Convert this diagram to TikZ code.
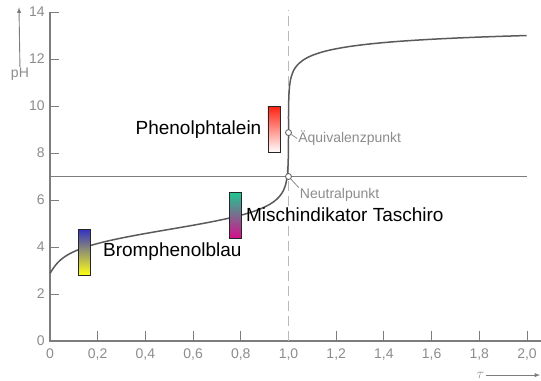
\documentclass[tikz,border=0pt]{standalone}
\usepackage{fontspec}
\setmainfont{Liberation Sans}
\usetikzlibrary{positioning}

\begin{document}
\begin{tikzpicture}[x=238.5pt, y=23.5pt,
	axis/.style={draw=axisgray, line width=1.1pt},
	tickline/.style={draw=axisgray, line width=1pt},
	bar/.style={draw=black!85, line width=0.8pt, minimum width=12pt, minimum height=46pt, inner sep=0pt},
	indname/.style={font=\fontsize{19}{19}\selectfont, inner sep=0pt},
	note/.style={text=notegray, font=\fontsize{14}{14}\selectfont, inner sep=1pt},
	pointmark/.style={circle, draw=curvegray, fill=white, line width=0.8pt, inner sep=0pt, minimum size=6pt}]
	\definecolor{axisgray}{RGB}{125, 125, 125};
\definecolor{notegray}{RGB}{140, 140, 140};
\definecolor{curvegray}{RGB}{90, 90, 90};
\definecolor{dashgray}{RGB}{185, 185, 185};
\definecolor{bromblue}{RGB}{50, 50, 195};
\definecolor{bromyellow}{RGB}{255, 255, 20};
\definecolor{mischgreen}{RGB}{30, 200, 145};
\definecolor{mischpink}{RGB}{215, 15, 140};
\definecolor{phenolred}{RGB}{255, 35, 20};

% \drawbar#name#x#y#topcolor#bottomcolor
\def\drawbar#1#2#3#4#5{
	\node[bar, top color=#4, bottom color=#5] (#1) at (#2, #3) {};
}

	\useasboundingbox (-0.2096, -1.660) rectangle (2.0587, 14.511);

	% axes
	\draw[axis] (0, 14) -- (0, 0) -- (2.0587, 0);
	\foreach \y in {2, 4, ..., 14}{
		\draw[tickline] (0, \y) -- (0.038, \y);
	}
	\foreach \y in {0, 2, ..., 14}{
		\node[note, anchor=east] (yt-\y) at (-0.017, \y) {\y};
	}
	\foreach \x/\a/\b in {0.2/0/2, 0.4/0/4, 0.6/0/6, 0.8/0/8, 1.0/1/0, 1.2/1/2, 1.4/1/4, 1.6/1/6, 1.8/1/8, 2.0/2/0}{
		\draw[tickline] (\x, 0) -- (\x, 0.43);
		\node[note] (xt-\a-\b) at (\x, -0.56) {\a,\b};
	}
	\node[note] (xt-0) at (0, -0.56) {0};

	% axis names
	\node[note] (phname) at (-0.126, 11.35) {pH};
	\coordinate (phtip) at (-0.13, 14.2);
	\draw[draw=axisgray, line width=0.9pt, -latex] (phname.north) -- (phtip);
	\node[note] (tauname) at (1.805, -1.45) {$\tau$};
	\coordinate (tautip) at (2.055, -1.45);
	\draw[draw=axisgray, line width=0.9pt, -latex] (tauname.east) -- (tautip);

	% guide lines
	\draw[draw=dashgray, line width=1pt, dash pattern=on 10pt off 5pt] (1, 0) -- (1, 14.1);
	\draw[draw=axisgray, line width=0.9pt] (0, 7) -- (2.0, 7);

	% titration curve, tau as a function of pH
	\draw[draw=curvegray, line width=1.5pt] plot[domain=2.88:13.0, samples=300, variable=\p]
		({1/(1+pow(10, max(4.75-\p, -4))) - pow(10, max(1-\p, -4))
		  + 2*pow(10, max(\p-13.477, -4))/(1-pow(10, max(\p-13.477, -4)))}, \p);

	% points
	\node[pointmark] (aeq) at (1, 8.87) {};
	\node[pointmark] (neutral) at (1, 7) {};
	\node[note, anchor=west] (aeqtext) at (1.036, 8.62) {Äquivalenzpunkt};
	\node[note, anchor=west] (neutraltext) at (1.043, 6.2) {Neutralpunkt};
	\draw[draw=notegray, line width=0.8pt] (aeq) -- (aeqtext.west);
	\draw[draw=notegray, line width=0.8pt] (neutral) -- (neutraltext.north west);

	% indicators
	\drawbar{brom}{0.1447}{3.787}{bromblue}{bromyellow}
	\drawbar{misch}{0.7778}{5.362}{mischgreen}{mischpink}
	\drawbar{phenol}{0.939}{9.0}{phenolred}{white}
	\node[indname, right=12pt of brom] (bromname) {Bromphenolblau};
	\node[indname, right=4pt of misch] (mischname) {Mischindikator Taschiro};
	\node[indname, left=6pt of phenol] (phenolname) {Phenolphtalein};
\end{tikzpicture}
\end{document}
